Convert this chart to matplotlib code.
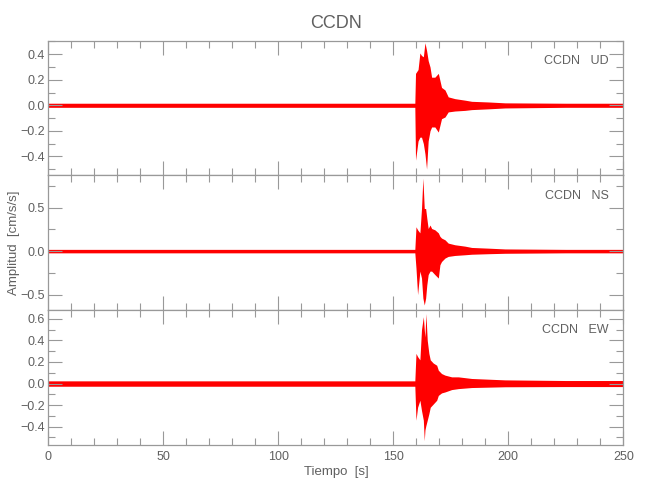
import matplotlib.pyplot as plt
from matplotlib.ticker import MultipleLocator
import numpy as np

plt.rcParams['font.family'] = ['Liberation Sans', 'DejaVu Sans']

station = "CCDN"
components = ["UD", "NS", "EW"]

# envelope of each trace (max / min in cm/s/s)
t_ud = [0, 50, 100, 150, 159.4, 159.7, 160.8, 161.6, 162.3, 163.1, 163.8, 164.5, 165.2,
        166.0, 166.7, 168.1, 169.6, 171.0, 172.5, 173.9, 176.8, 181.2, 184.1, 191.3, 198.6, 225, 250]
up_ud = [0.016, 0.016, 0.016, 0.016, 0.016, 0.25, 0.28, 0.41, 0.39, 0.38, 0.49, 0.43, 0.35,
         0.30, 0.22, 0.22, 0.25, 0.14, 0.12, 0.066, 0.052, 0.04, 0.031, 0.026, 0.019, 0.016, 0.016]
lo_ud = [-0.016, -0.016, -0.016, -0.016, -0.016, -0.43, -0.28, -0.25, -0.25, -0.30, -0.38, -0.50, -0.28,
         -0.20, -0.17, -0.17, -0.21, -0.105, -0.092, -0.052, -0.045, -0.04, -0.034, -0.028, -0.021, -0.016, -0.016]

t_ns = [0, 50, 100, 150, 159.4, 159.9, 160.6, 161.6, 162.3, 162.9, 163.5, 164.1, 164.6, 165.2,
        166.0, 166.7, 168.1, 169.6, 170.3, 171.0, 172.5, 173.9, 176.8, 181.2, 184.1, 191.3, 198.6, 225, 250]
up_ns = [0.02, 0.02, 0.02, 0.02, 0.02, 0.28, 0.245, 0.21, 0.49, 0.84, 0.49, 0.49, 0.38, 0.26,
         0.30, 0.26, 0.245, 0.21, 0.17, 0.15, 0.13, 0.092, 0.073, 0.057, 0.042, 0.034, 0.025, 0.02, 0.02]
lo_ns = [-0.02, -0.02, -0.02, -0.02, -0.02, -0.195, -0.50, -0.23, -0.31, -0.54, -0.62, -0.54, -0.39, -0.27,
         -0.23, -0.23, -0.27, -0.31, -0.157, -0.12, -0.08, -0.061, -0.05, -0.042, -0.036, -0.03, -0.025, -0.02, -0.02]

t_ew = [0, 50, 100, 150, 159.4, 159.9, 160.6, 161.6, 162.3, 163.1, 163.5, 163.8, 164.2, 164.8,
        165.5, 166.1, 167.4, 168.9, 169.6, 171.0, 172.5, 175.4, 178.3, 184.1, 198.6, 225, 250]
up_ew = [0.025, 0.025, 0.025, 0.025, 0.025, 0.28, 0.25, 0.22, 0.50, 0.62, 0.50, 0.43, 0.65, 0.40,
         0.28, 0.22, 0.19, 0.17, 0.124, 0.093, 0.078, 0.062, 0.062, 0.047, 0.034, 0.028, 0.028]
lo_ew = [-0.025, -0.025, -0.025, -0.025, -0.025, -0.34, -0.22, -0.155, -0.25, -0.34, -0.53, -0.43, -0.39, -0.34,
         -0.28, -0.22, -0.19, -0.155, -0.11, -0.087, -0.078, -0.056, -0.047, -0.037, -0.03, -0.028, -0.028]

traces = [(t_ud, up_ud, lo_ud), (t_ns, up_ns, lo_ns), (t_ew, up_ew, lo_ew)]
ylims = [(-0.55, 0.506), (-0.68, 0.87), (-0.57, 0.68)]
major = [0.2, 0.5, 0.2]
minor = [0.1, 0.25, 0.1]

txt = '#606060'
edge = '#999999'

fig, axes = plt.subplots(3, 1, figsize=(6.5, 5), dpi=100, sharex=True)
fig.subplots_adjust(left=0.0738, right=0.959, top=0.9186, bottom=0.11, hspace=0)

for ax, (t, up, lo), comp, yl, mj, mn in zip(axes, traces, components, ylims, major, minor):
    ax.fill_between(t, lo, up, color='red', linewidth=0)
    ax.set_xlim(0, 250)
    ax.set_ylim(*yl)
    ax.xaxis.set_major_locator(MultipleLocator(50))
    ax.xaxis.set_minor_locator(MultipleLocator(10))
    ax.yaxis.set_major_locator(MultipleLocator(mj))
    ax.yaxis.set_minor_locator(MultipleLocator(mn))
    ax.tick_params(which='both', direction='in', top=True, right=True,
                   color=edge, labelcolor=txt, labelsize=9)
    ax.tick_params(axis='y', pad=2)
    ax.tick_params(axis='x', pad=4)
    ax.tick_params(which='major', length=10, width=0.8)
    ax.tick_params(which='minor', length=5, width=0.8)
    for s in ax.spines.values():
        s.set_color(edge)
        s.set_linewidth(0.9)
    ax.text(0.975, 0.85, station + "   " + comp, transform=ax.transAxes,
            ha='right', va='center', color=txt, fontsize=9)

fig.text(0.517, 0.056, "Tiempo  [s]", ha='center', va='center', color=txt, fontsize=9.5)
fig.text(0.022, 0.514, "Amplitud  [cm/s/s]", rotation=90, ha='center', va='center',
         color=txt, fontsize=9.5)
fig.text(0.517, 0.952, station, ha='center', va='center', color=txt, fontsize=13)

plt.savefig("out.png", dpi=100)
